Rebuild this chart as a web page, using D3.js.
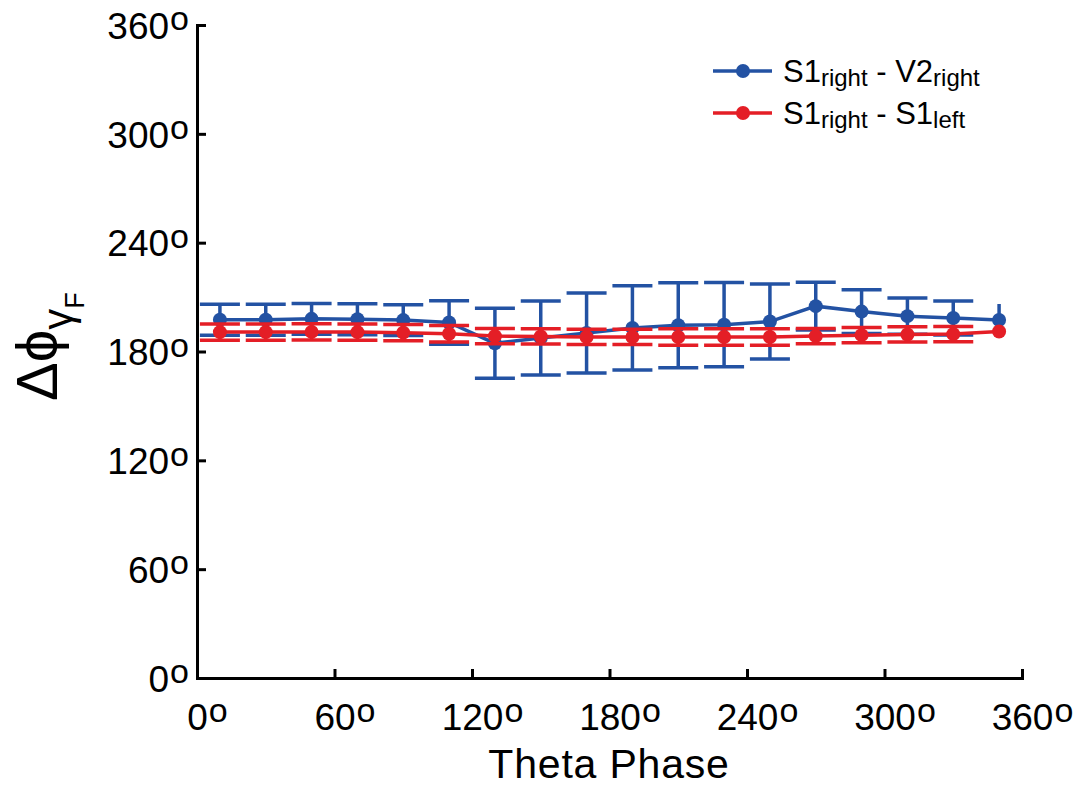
<!DOCTYPE html>
<html>
<head>
<meta charset="utf-8">
<script src="https://cdn.jsdelivr.net/npm/d3@7"></script>
<style>
  body { margin: 0; background: #fff; }
  svg { font-family: "Liberation Sans", Arial, sans-serif; }
</style>
</head>
<body>
<svg id="chart" width="1076" height="789"></svg>
<script>
// theta phase bins (degrees)
const phases = [10, 30, 50, 70, 90, 110, 130, 150, 170, 190, 210, 230, 250, 270, 290, 310, 330, 350];

// S1right - V2right
const blueMean = [197.5, 197.5, 198, 197.8, 197.3, 196, 184.5, 187.5, 190.2, 193, 194.5, 194.8, 196.5, 205, 202, 199.5, 198.5, 197.4];
const blueErr = [8.5, 8.5, 8.5, 8.5, 8.5, 12, 19.3, 20.4, 22, 23.2, 23.4, 23.2, 20.7, 13.2, 12.1, 10, 9.4, 8.8];

// S1right - S1left
const redMean = [190.7, 190.7, 190.8, 190.7, 190.4, 189.8, 188.5, 188.3, 188, 188, 188, 188, 188, 188.5, 189, 189.4, 189.6, 191];
const redErr = [4.5, 4.5, 4.5, 4.5, 4.5, 4.5, 4.2, 4.2, 4.2, 4.2, 4.5, 4.5, 4.5, 4.2, 4.2, 4.2, 4.2, 0];

const xTicks = [0, 60, 120, 180, 240, 300, 360];
const yTicks = [0, 60, 120, 180, 240, 300, 360];

const blue = "#2352a3";
const red = "#e41e26";

const svg = d3.select("#chart");

const x = d3.scaleLinear().domain([0, 360]).range([197, 1022]);
const y = d3.scaleLinear().domain([0, 360]).range([678, 25]);

// degree label: digits then a raised "o"
function degLabel(sel) {
  sel.each(function (d) {
    const t = d3.select(this).text(null);
    t.append("tspan").text(d);
    t.append("tspan").attr("font-size", 34).attr("dy", -8.5).attr("dx", 1).text("o");
  });
}

// y axis
const gy = svg.append("g")
  .attr("transform", "translate(" + x(0) + ",0)")
  .call(d3.axisLeft(y).tickValues(yTicks).tickSizeInner(-9).tickSizeOuter(0).tickPadding(8));

// x axis
const gx = svg.append("g")
  .attr("transform", "translate(0," + y(0) + ")")
  .call(d3.axisBottom(x).tickValues(xTicks).tickSizeInner(-9).tickSizeOuter(0).tickPadding(26));

[gx, gy].forEach((g) => {
  g.select(".domain").attr("stroke", "#000").attr("stroke-width", 3).attr("stroke-linecap", "square");
  g.selectAll(".tick line").attr("stroke", "#000").attr("stroke-width", 3);
  g.selectAll(".tick text")
    .attr("fill", "#000")
    .attr("font-size", 37)
    .attr("font-family", "Liberation Sans, Arial, sans-serif")
    .call(degLabel);
});
gy.selectAll(".tick text").attr("dy", "0.36em");
gx.selectAll(".tick text").attr("dx", 10);

// axis titles
svg.append("text")
  .attr("x", 609)
  .attr("y", 778)
  .attr("text-anchor", "middle")
  .attr("font-size", 41)
  .attr("letter-spacing", 0.8)
  .text("Theta Phase");

const ylab = svg.append("text")
  .attr("transform", "translate(57,401) rotate(-90)")
  .attr("font-size", 58);
ylab.append("tspan").text("Δϕ");
ylab.append("tspan").attr("font-size", 42).attr("dy", 15).text("γ");
ylab.append("tspan").attr("font-size", 27).attr("dy", 12).text("F");

// series
function drawSeries(means, errs, color) {
  const data = phases.map((p, i) => ({ p: p, m: means[i], e: errs[i], last: i === phases.length - 1 }));
  const g = svg.append("g");

  // error bars
  const eb = g.append("g").attr("stroke", color).attr("stroke-width", 3.5);
  eb.selectAll(".stem")
    .data(data)
    .join("line")
    .attr("x1", (d) => x(d.p))
    .attr("x2", (d) => x(d.p))
    .attr("y1", (d) => y(d.m - d.e))
    .attr("y2", (d) => y(d.m + d.e));
  const capW = 20;
  [1, -1].forEach((s) => {
    eb.selectAll(".cap" + s)
      .data(data.filter((d) => !d.last))
      .join("line")
      .attr("x1", (d) => x(d.p) - capW)
      .attr("x2", (d) => x(d.p) + capW)
      .attr("y1", (d) => y(d.m + s * d.e))
      .attr("y2", (d) => y(d.m + s * d.e));
  });

  // line
  g.append("path")
    .datum(data)
    .attr("fill", "none")
    .attr("stroke", color)
    .attr("stroke-width", 3.5)
    .attr("d", d3.line().x((d) => x(d.p)).y((d) => y(d.m)));

  // dots
  g.selectAll("circle")
    .data(data)
    .join("circle")
    .attr("cx", (d) => x(d.p))
    .attr("cy", (d) => y(d.m))
    .attr("r", 7)
    .attr("fill", color);
}

drawSeries(blueMean, blueErr, blue);
drawSeries(redMean, redErr, red);

// legend
const legend = [
  { color: blue, sub2: "V2", sub2s: "right" },
  { color: red, sub2: "S1", sub2s: "left" },
];
const lg = svg.append("g").attr("font-size", 31);
legend.forEach((d, i) => {
  const ly = 71 + i * 42;
  lg.append("line")
    .attr("x1", 713).attr("x2", 772)
    .attr("y1", ly).attr("y2", ly)
    .attr("stroke", d.color).attr("stroke-width", 3.5);
  lg.append("circle").attr("cx", 743).attr("cy", ly).attr("r", 7).attr("fill", d.color);
  const t = lg.append("text").attr("x", 783).attr("y", ly + 11);
  t.append("tspan").text("S1");
  t.append("tspan").attr("font-size", 24).attr("dy", 4).text("right");
  t.append("tspan").attr("dy", -4).text(" - " + d.sub2);
  t.append("tspan").attr("font-size", 24).attr("dy", 4).text(d.sub2s);
});
</script>
</body>
</html>
